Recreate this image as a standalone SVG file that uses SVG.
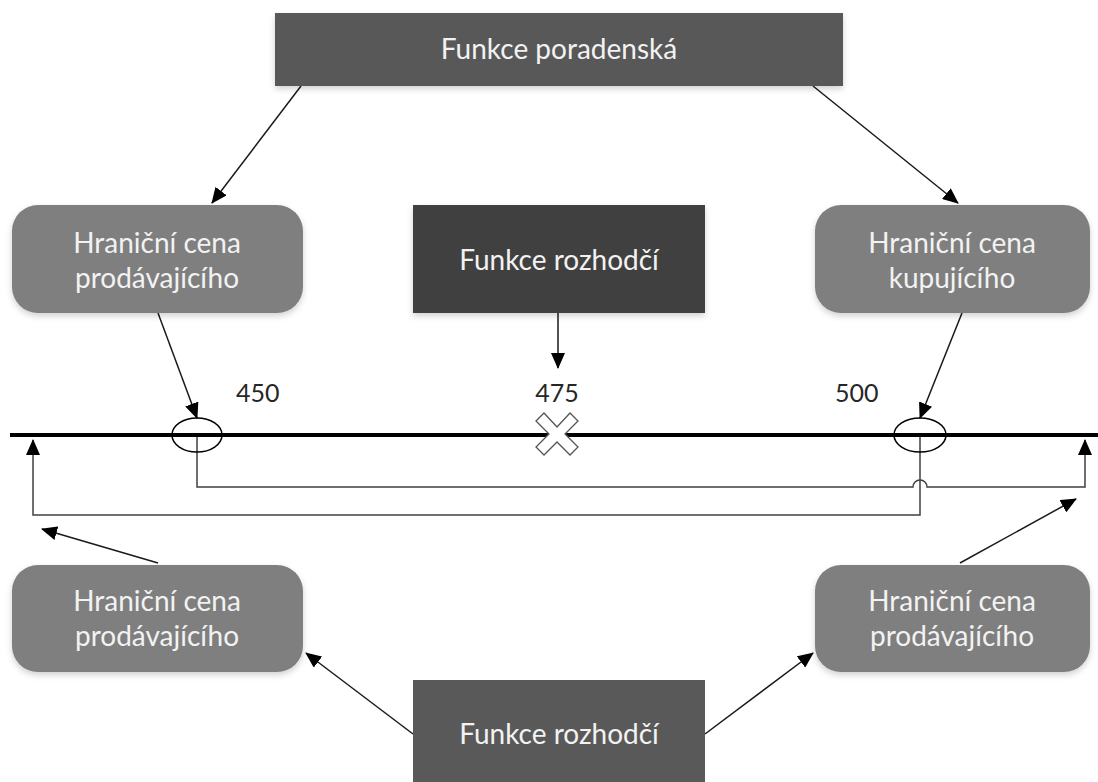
<svg xmlns="http://www.w3.org/2000/svg" width="1098" height="782" viewBox="0 0 1098 782">
<defs>
<style>
.lbl{font-family:Lato,"Liberation Sans",sans-serif;font-size:28px;fill:#f2f2f2;text-anchor:middle}
.num{font-family:Lato,"Liberation Sans",sans-serif;font-size:25px;fill:#262626}
.dark{fill:#595959}
.darker{fill:#3f3f3f}
.grey{fill:#7f7f7f}
.arr{stroke:#1a1a1a;stroke-width:1.5;fill:none;marker-end:url(#ah)}
.con{stroke:#404040;stroke-width:1.5;fill:none}
</style>
<marker id="ah" markerUnits="userSpaceOnUse" markerWidth="16" markerHeight="14" refX="15" refY="7" orient="auto">
<path d="M0,0 L16,7 L0,14 Z" fill="#000"/>
</marker>
<filter id="sh" x="-10%" y="-10%" width="120%" height="130%">
<feDropShadow dx="0" dy="3" stdDeviation="3" flood-color="#000" flood-opacity="0.18"/>
</filter>
</defs>
<rect width="1098" height="782" fill="#fff"/>

<g id="connectors">
<line class="arr" x1="301" y1="86" x2="212" y2="203"/>
<line class="arr" x1="813" y1="86" x2="958" y2="203"/>
<line class="arr" x1="158" y1="313" x2="197" y2="418"/>
<line class="arr" x1="962" y1="313" x2="920" y2="418"/>
<line class="arr" x1="558" y1="313" x2="558" y2="368"/>
<line class="arr" x1="158" y1="563" x2="42" y2="529"/>
<line class="arr" x1="960" y1="563" x2="1076" y2="499"/>
<line class="arr" x1="413" y1="734" x2="306" y2="653"/>
<line class="arr" x1="705" y1="734" x2="813" y2="653"/>
<path class="con" d="M197,435 V487 H913 A7,7 0 0 1 927,487 H1085 V440" marker-end="url(#ah)"/>
<path class="con" d="M920,435 V515 H33 V440" marker-end="url(#ah)"/>
</g>

<g id="axis">
<line x1="10" y1="435" x2="1098" y2="435" stroke="#000" stroke-width="4"/>
<ellipse cx="197" cy="435" rx="25" ry="17" fill="none" stroke="#000" stroke-width="1.5"/>
<ellipse cx="920" cy="435" rx="26" ry="17" fill="none" stroke="#000" stroke-width="1.5"/>
<polygon points="536,421 544,413 557,427 570,413 578,421 565,434 578,447 570,455 557,442 544,455 536,447 549,434" fill="#fff" stroke="#555" stroke-width="1.3"/>
<text class="num" x="236" y="402">450</text>
<text class="num" x="557" y="402" text-anchor="middle">475</text>
<text class="num" x="835" y="402">500</text>
</g>

<g id="n-poradenska">
<rect class="dark" x="275" y="13" width="568" height="73" filter="url(#sh)"/>
<text class="lbl" x="559" y="59">Funkce poradenská</text>
</g>

<g id="n-prod-top">
<rect class="grey" x="12" y="205" width="291" height="108" rx="26" filter="url(#sh)"/>
<text class="lbl" x="157" y="253">Hraniční cena</text>
<text class="lbl" x="157" y="288">prodávajícího</text>
</g>

<g id="n-rozhodci-top">
<rect class="darker" x="413" y="205" width="292" height="108" filter="url(#sh)"/>
<text class="lbl" x="559" y="270">Funkce rozhodčí</text>
</g>

<g id="n-kup-top">
<rect class="grey" x="815" y="205" width="275" height="108" rx="26" filter="url(#sh)"/>
<text class="lbl" x="952" y="253">Hraniční cena</text>
<text class="lbl" x="952" y="288">kupujícího</text>
</g>

<g id="n-prod-left">
<rect class="grey" x="12" y="565" width="291" height="107" rx="26" filter="url(#sh)"/>
<text class="lbl" x="157" y="611">Hraniční cena</text>
<text class="lbl" x="157" y="646">prodávajícího</text>
</g>

<g id="n-prod-right">
<rect class="grey" x="815" y="565" width="275" height="107" rx="26" filter="url(#sh)"/>
<text class="lbl" x="952" y="611">Hraniční cena</text>
<text class="lbl" x="952" y="646">prodávajícího</text>
</g>

<g id="n-rozhodci-bottom">
<rect class="dark" x="413" y="680" width="292" height="110"/>
<text class="lbl" x="559" y="744">Funkce rozhodčí</text>
</g>
</svg>
